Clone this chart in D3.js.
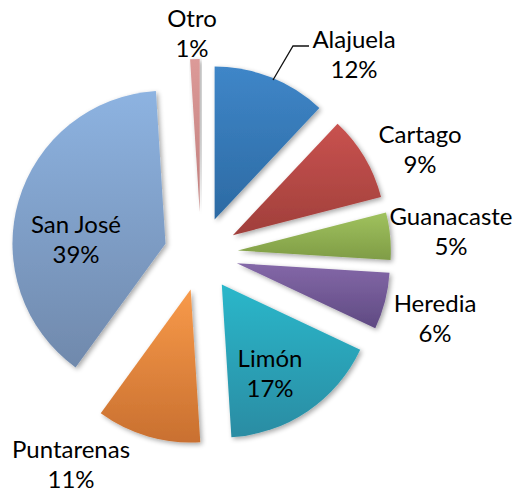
<!DOCTYPE html>
<html>
<head>
<meta charset="utf-8">
<script src="https://cdn.jsdelivr.net/npm/d3@7"></script>
<style>
  body { margin: 0; background: #fff; }
  svg { display: block; }
  .lbl { font-family: Lato, "Open Sans", sans-serif; font-size: 24px; fill: #000; }
</style>
</head>
<body>
<div id="chart"></div>
<script>
// data
const provinces = ["Alajuela", "Cartago", "Guanacaste", "Heredia", "Limón", "Puntarenas", "San José", "Otro"];
const shares = [12, 9, 5, 6, 17, 11, 39, 1];

// look
const topColors = ["#3f86c8", "#c9524f", "#a0c25e", "#8468a8", "#2cb7ca", "#f89a4a", "#8db3e1", "#dc9a98"];
const bottomColors = ["#2c6aa3", "#a03f3b", "#7f9c46", "#5f4a82", "#2a8ca3", "#c97030", "#7089ac", "#c07e7c"];
const explode = [37, 37, 37, 37, 37, 37, 37, 42];
// label anchor (centre of the two lines), in page pixels
const labelAt = [[354, 55], [420, 150], [451, 232], [435, 319], [270, 374], [71, 465], [76, 240], [192, 34]];

const width = 519, height = 492;
const cx = 201, cy = 254, radius = 153;

const svg = d3.select("#chart").append("svg")
    .attr("width", width)
    .attr("height", height);

const defs = svg.append("defs");

// soft shadow like the spreadsheet one
const shadow = defs.append("filter")
    .attr("id", "shadow")
    .attr("x", "-20%").attr("y", "-20%")
    .attr("width", "140%").attr("height", "140%");
shadow.append("feGaussianBlur").attr("in", "SourceAlpha").attr("stdDeviation", 2.5);
shadow.append("feOffset").attr("dx", 1.5).attr("dy", 2).attr("result", "off");
shadow.append("feComponentTransfer").append("feFuncA").attr("type", "linear").attr("slope", 0.35);
const merge = shadow.append("feMerge");
merge.append("feMergeNode");
merge.append("feMergeNode").attr("in", "SourceGraphic");

provinces.forEach(function (p, i) {
    const g = defs.append("linearGradient")
        .attr("id", "grad" + i)
        .attr("x1", 0).attr("y1", 0)
        .attr("x2", 0).attr("y2", 1);
    g.append("stop").attr("offset", "0%").attr("stop-color", topColors[i]);
    g.append("stop").attr("offset", "100%").attr("stop-color", bottomColors[i]);
});

const rows = provinces.map(function (p, i) { return {name: p, value: shares[i], i: i}; });

const pie = d3.pie()
    .sort(null)
    .value(function (d) { return d.value; });

const arc = d3.arc()
    .innerRadius(0)
    .outerRadius(radius);

const plot = svg.append("g")
    .attr("transform", `translate(${cx},${cy})`);

const arcs = pie(rows);

plot.selectAll("path.slice")
    .data(arcs)
    .join("path")
    .attr("class", "slice")
    .attr("transform", function (d) {
        const mid = (d.startAngle + d.endAngle) / 2;
        const e = explode[d.data.i];
        return `translate(${e * Math.sin(mid)},${-e * Math.cos(mid)})`;
    })
    .attr("d", arc)
    .attr("fill", function (d) { return "url(#grad" + d.data.i + ")"; })
    .attr("filter", "url(#shadow)");

// leader line for Alajuela
svg.append("polyline")
    .attr("points", "273,80 293,46 309,46")
    .attr("fill", "none")
    .attr("stroke", "#111")
    .attr("stroke-width", 1.3);

// labels
const labels = svg.selectAll("text.lbl")
    .data(arcs)
    .join("text")
    .attr("class", "lbl")
    .attr("text-anchor", "middle")
    .attr("transform", function (d) {
        const p = labelAt[d.data.i];
        return `translate(${p[0]},${p[1]})`;
    });

labels.append("tspan")
    .attr("x", 0)
    .attr("y", -7)
    .text(function (d) { return d.data.name; });

labels.append("tspan")
    .attr("x", 0)
    .attr("y", 23)
    .text(function (d) { return d.data.value + "%"; });
</script>
</body>
</html>
